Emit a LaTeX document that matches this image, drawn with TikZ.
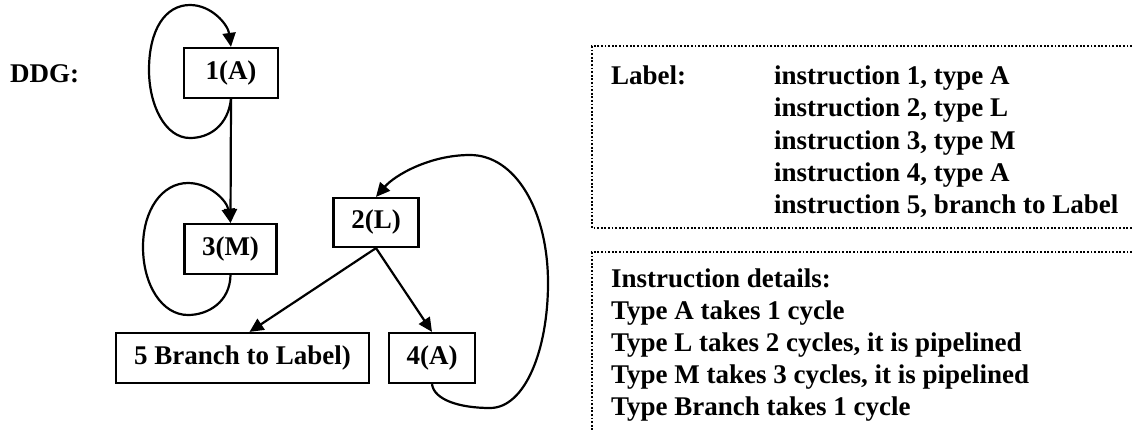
\documentclass[tikz,border=0pt]{standalone}
\usepackage{fontspec}
\setmainfont{Liberation Serif}
\usetikzlibrary{arrows.meta,calc}
\begin{document}
\begin{tikzpicture}[x=1pt,y=-1pt,
  every node/.style={font=\fontsize{27}{32}\selectfont\bfseries},
  box/.style={draw, line width=2.2pt, inner sep=0pt, minimum height=50pt},
  conn/.style={line width=2.2pt, -{Triangle[length=14pt,width=13pt]}},
  dotbox/.style={line width=1.8pt, dash pattern=on 1.8pt off 1.8pt},
  txt/.style={anchor=base west, inner sep=0pt}]
\useasboundingbox (0,0) rectangle (1132,431);

% graph nodes
\node[txt] (ddg) at (10,82) {DDG:};
\node[box, minimum width=94pt] (n1) at (231,73) {1(A)};
\node[box, minimum width=92pt] (n3) at (230.5,249) {3(M)};
\node[box, minimum width=85pt, minimum height=49pt] (n2) at (376,222.5) {2(L)};
\node[box, minimum width=253pt] (b5) at (242.5,358) {5 Branch to Label)};
\node[box, minimum width=86pt] (a4) at (432,358) {4(A)};

% connectors
\draw[conn] (n1.south) -- (n3.north);
\draw[conn] (n1.south) .. controls (228,125) and (210,138) .. (190,138)
  .. controls (165,138) and (149,105) .. (149,70)
  .. controls (149,30) and (165,5) .. (190,5)
  .. controls (212,5) and (228,25) .. (n1.north);
\draw[conn] (n3.south) .. controls (230,302) and (208,315) .. (188,315)
  .. controls (162,315) and (143,285) .. (143,247)
  .. controls (143,210) and (162,183) .. (188,183)
  .. controls (210,183) and (227,201) .. (n3.north);
\draw[conn] (n2.south) -- ($(b5.north)+(7,0)$);
\draw[conn] (n2.south) -- (a4.north);
\draw[conn] (a4.south) .. controls (434,400) and (460,408) .. (490,408)
  .. controls (525,408) and (548,350) .. (548,283)
  .. controls (548,210) and (515,155) .. (470,155)
  .. controls (430,155) and (395,175) .. (n2.north);

% dotted boxes
\draw[dotbox] (1132,46) -- (592,46) -- (592,228) -- (1132,228);
\draw[dotbox] (1132,252) -- (592,252) -- (592,431);

% label box text
\node[txt] (lab) at (611,84) {Label:};
\node[txt] (i1) at (774,84) {instruction 1, type A};
\node[txt] (i2) at (774,116.5) {instruction 2, type L};
\node[txt] (i3) at (774,149) {instruction 3, type M};
\node[txt] (i4) at (774,181) {instruction 4, type A};
\node[txt] (i5) at (774,213.5) {instruction 5, branch to Label};

% details box text
\node[txt] (d0) at (611,287) {Instruction details:};
\node[txt] (d1) at (611,319) {Type A takes 1 cycle};
\node[txt] (d2) at (611,351) {Type L takes 2 cycles, it is pipelined};
\node[txt] (d3) at (611,383) {Type M takes 3 cycles, it is pipelined};
\node[txt] (d4) at (611,415) {Type Branch takes 1 cycle};
\end{tikzpicture}
\end{document}
